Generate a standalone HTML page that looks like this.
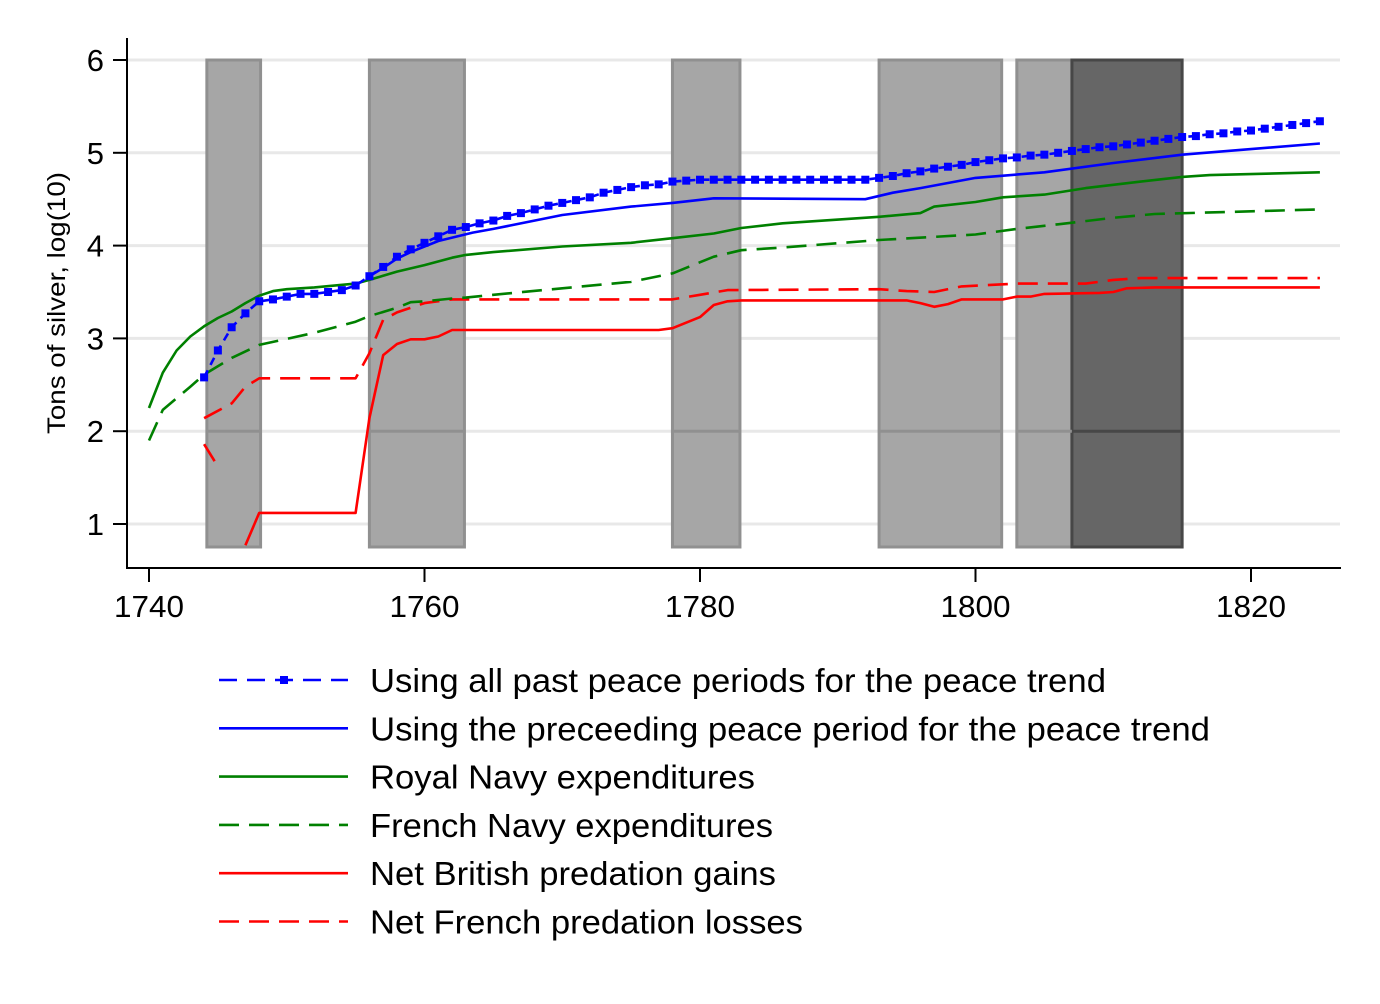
<!DOCTYPE html>
<html><head><meta charset="utf-8">
<style>
html,body{margin:0;padding:0;background:#fff;}
svg{display:block;font-family:"Liberation Sans",Arial,sans-serif;}
</style></head>
<body>
<svg id="chart" width="1380" height="1004" viewBox="0 0 1380 1004" xmlns="http://www.w3.org/2000/svg">
<rect x="0" y="0" width="1380" height="1004" fill="#fff"/>
<g id="grid"></g>
<g id="bars"></g>
<g id="grid2"></g>
<g id="series"></g>
<g id="axes"></g>
<g id="legend"></g>
</svg>
<script>
const xTicks = [1740, 1760, 1780, 1800, 1820];
const yTicks = [1, 2, 3, 4, 5, 6];
const warStart = [1744.2, 1756, 1778, 1793, 1803, 1807];
const warEnd = [1748.1, 1762.9, 1782.9, 1801.9, 1807, 1815];
const warDark = [false, false, false, false, false, true];

const allPastYears = [1744,1745,1746,1747,1748,1749,1750,1751,1752,1753,1754,1755,1756,1757,1758,1759,1760,1761,1762,1763,1764,1765,1766,1767,1768,1769,1770,1771,1772,1773,1774,1775,1776,1777,1778,1779,1780,1781,1782,1783,1784,1785,1786,1787,1788,1789,1790,1791,1792,1793,1794,1795,1796,1797,1798,1799,1800,1801,1802,1803,1804,1805,1806,1807,1808,1809,1810,1811,1812,1813,1814,1815,1816,1817,1818,1819,1820,1821,1822,1823,1824,1825];
const allPastVals = [2.58,2.87,3.12,3.27,3.40,3.42,3.45,3.48,3.48,3.50,3.52,3.57,3.67,3.77,3.88,3.96,4.03,4.10,4.17,4.20,4.24,4.27,4.32,4.35,4.39,4.43,4.46,4.49,4.52,4.57,4.60,4.63,4.65,4.66,4.69,4.70,4.71,4.71,4.71,4.71,4.71,4.71,4.71,4.71,4.71,4.71,4.71,4.71,4.71,4.73,4.75,4.78,4.80,4.83,4.85,4.87,4.90,4.92,4.94,4.95,4.97,4.98,5.00,5.02,5.04,5.06,5.07,5.09,5.11,5.13,5.15,5.17,5.18,5.20,5.21,5.23,5.24,5.26,5.28,5.30,5.32,5.34];

const precYears = [1756,1757,1758,1759,1760,1761,1763.5,1765,1770,1775,1778,1781,1792,1794,1796,1800,1805,1810,1815,1820,1825];
const precVals = [3.67,3.76,3.86,3.93,3.99,4.05,4.14,4.18,4.33,4.42,4.46,4.51,4.50,4.57,4.62,4.73,4.79,4.89,4.98,5.04,5.10];

const rnYears = [1740,1741,1742,1743,1744,1745,1746,1747,1748,1749,1750,1752,1755,1756,1758,1760,1762,1763,1765,1770,1775,1778,1781,1783,1786,1793,1796,1797,1800,1802,1805,1808,1812,1815,1817,1825];
const rnVals = [2.25,2.63,2.87,3.02,3.13,3.22,3.29,3.38,3.46,3.51,3.53,3.55,3.59,3.63,3.72,3.79,3.87,3.90,3.93,3.99,4.03,4.08,4.13,4.19,4.24,4.31,4.35,4.42,4.47,4.52,4.55,4.62,4.69,4.74,4.76,4.79];

const fnYears = [1740,1741,1743,1744,1746,1748,1752,1755,1756,1758,1759,1760,1762,1763,1765,1770,1775,1778,1781,1783,1786,1793,1800,1803,1806,1810,1813,1825];
const fnVals = [1.90,2.23,2.48,2.61,2.79,2.93,3.06,3.18,3.24,3.33,3.39,3.40,3.43,3.44,3.47,3.54,3.61,3.70,3.88,3.95,3.98,4.06,4.12,4.18,4.23,4.30,4.34,4.39];

const bgYears = [1747,1748,1755,1756,1757,1758,1759,1760,1761,1762,1777,1778,1780,1781,1782,1783,1795,1796,1797,1798,1799,1802,1803,1804,1805,1809,1810,1811,1813,1825];
const bgVals = [0.77,1.12,1.12,2.14,2.82,2.94,2.99,2.99,3.02,3.09,3.09,3.11,3.23,3.36,3.40,3.41,3.41,3.38,3.34,3.37,3.42,3.42,3.45,3.45,3.48,3.49,3.50,3.54,3.55,3.55];

const flEarlyYears = [1744,1745];
const flEarlyVals = [1.86,1.62];
const flYears = [1744,1746,1747,1748,1755,1756,1757,1758,1760,1762,1778,1780,1782,1793,1795,1797,1799,1803,1808,1810,1812,1825];
const flVals = [2.14,2.30,2.48,2.57,2.57,2.84,3.20,3.28,3.38,3.42,3.42,3.47,3.52,3.53,3.51,3.50,3.56,3.59,3.59,3.63,3.65,3.65];

const legendLabels = ["Using all past peace periods for the peace trend","Using the preceeding peace period for the peace trend","Royal Navy expenditures","French Navy expenditures","Net British predation gains","Net French predation losses"];
const legendWidths = [736, 840, 385, 403, 406, 433];

const NS = "http://www.w3.org/2000/svg";
function X(yr){ return 149 + (yr - 1740) * 13.775; }
function Y(v){ return 524 - (v - 1) * 92.8; }
function mk(tag, attrs, parent){ const e = document.createElementNS(NS, tag); for (const k in attrs) e.setAttribute(k, attrs[k]); parent.appendChild(e); return e; }
const grid = document.getElementById('grid'), bars = document.getElementById('bars'), grid2 = document.getElementById('grid2'),
      series = document.getElementById('series'), axes = document.getElementById('axes'), legend = document.getElementById('legend');

yTicks.forEach(t => {
  const l = mk('line', {x1:128, x2:1340, y1:Y(t), y2:Y(t), stroke:'#e8e8e8', 'stroke-width':3}, grid);
  
  
});
warStart.forEach((s, i) => {
  const r = mk('rect', {x:X(s), y:Y(6), width:X(warEnd[i]) - X(s), height:547 - Y(6),
    fill: warDark[i] ? '#666666' : '#a6a6a6', stroke: warDark[i] ? '#474747' : '#909090', 'stroke-width':3}, bars);
  
  
  const g = mk('line', {x1:X(s), x2:X(warEnd[i]), y1:Y(2), y2:Y(2), stroke: warDark[i] ? '#474747' : '#909090', 'stroke-width':3}, grid2);
  
  
});

function path(xs, vs, color, dash, name){
  const d = xs.map((yr, i) => (i ? 'L' : 'M') + X(yr).toFixed(1) + ',' + Y(vs[i]).toFixed(1)).join(' ');
  const p = mk('path', {d:d, fill:'none', stroke:color, 'stroke-width':2.6, 'stroke-linejoin':'round'}, series);
  if (dash) p.setAttribute('stroke-dasharray', dash);
  
  
}
path(flEarlyYears, flEarlyVals, '#ff0000', '20 10', 'french-losses-early');
path(flYears, flVals, '#ff0000', '20 10', 'french-losses-line');
path(bgYears, bgVals, '#ff0000', null, 'british-gains-line');
path(fnYears, fnVals, '#008000', '20 10', 'french-navy-line');
path(rnYears, rnVals, '#008000', null, 'royal-navy-line');
path(precYears, precVals, '#0000ff', null, 'preceding-peace-line');
path(allPastYears, allPastVals, '#0000ff', '8 6', 'all-past-peace-line');
allPastYears.forEach((yr, i) => {
  const m = mk('rect', {x:X(yr) - 4, y:Y(allPastVals[i]) - 4, width:8, height:8, fill:'#0000ff'}, series);
  
  
});

let a = mk('line', {x1:127, x2:127, y1:38, y2:569, stroke:'#000', 'stroke-width':2}, axes);
 
a = mk('line', {x1:126, x2:1341, y1:568, y2:568, stroke:'#000', 'stroke-width':2}, axes);
 
yTicks.forEach(t => {
  const l = mk('line', {x1:113, x2:127, y1:Y(t), y2:Y(t), stroke:'#000', 'stroke-width':2}, axes);
   
  const tx = mk('text', {x:104, y:Y(t) + 11, 'text-anchor':'end', 'font-size':31, fill:'#000'}, axes);
  tx.textContent = t;
   
});
xTicks.forEach(t => {
  const l = mk('line', {x1:X(t), x2:X(t), y1:568, y2:582, stroke:'#000', 'stroke-width':2}, axes);
   
  const tx = mk('text', {x:X(t), y:617, 'text-anchor':'middle', 'font-size':31, fill:'#000', textLength:70, lengthAdjust:'spacingAndGlyphs'}, axes);
  tx.textContent = t;
   
});
const yt = mk('text', {x:0, y:0, transform:'translate(65,303) rotate(-90)', 'text-anchor':'middle', 'font-size':25, fill:'#000', textLength:262, lengthAdjust:'spacingAndGlyphs'}, axes);
yt.textContent = 'Tons of silver, log(10)';
 

const legColors = ['#0000ff','#0000ff','#008000','#008000','#ff0000','#ff0000'];
const legDash = ['18 10', null, null, '20 10', null, '20 10'];
legendLabels.forEach((lab, i) => {
  const y = 680 + i * 48.3;
  const l = mk('line', {x1:219, x2:348, y1:y, y2:y, stroke:legColors[i], 'stroke-width':2.6}, legend);
  if (legDash[i]) l.setAttribute('stroke-dasharray', legDash[i]);
   
  if (i === 0) {
    const m = mk('rect', {x:280, y:y - 4, width:8, height:8, fill:'#0000ff'}, legend);
     
  }
  const tx = mk('text', {x:370, y:y + 12, 'font-size':33, fill:'#000', textLength:legendWidths[i], lengthAdjust:'spacingAndGlyphs'}, legend);
  tx.textContent = lab;
   
});
</script>
</body></html>
